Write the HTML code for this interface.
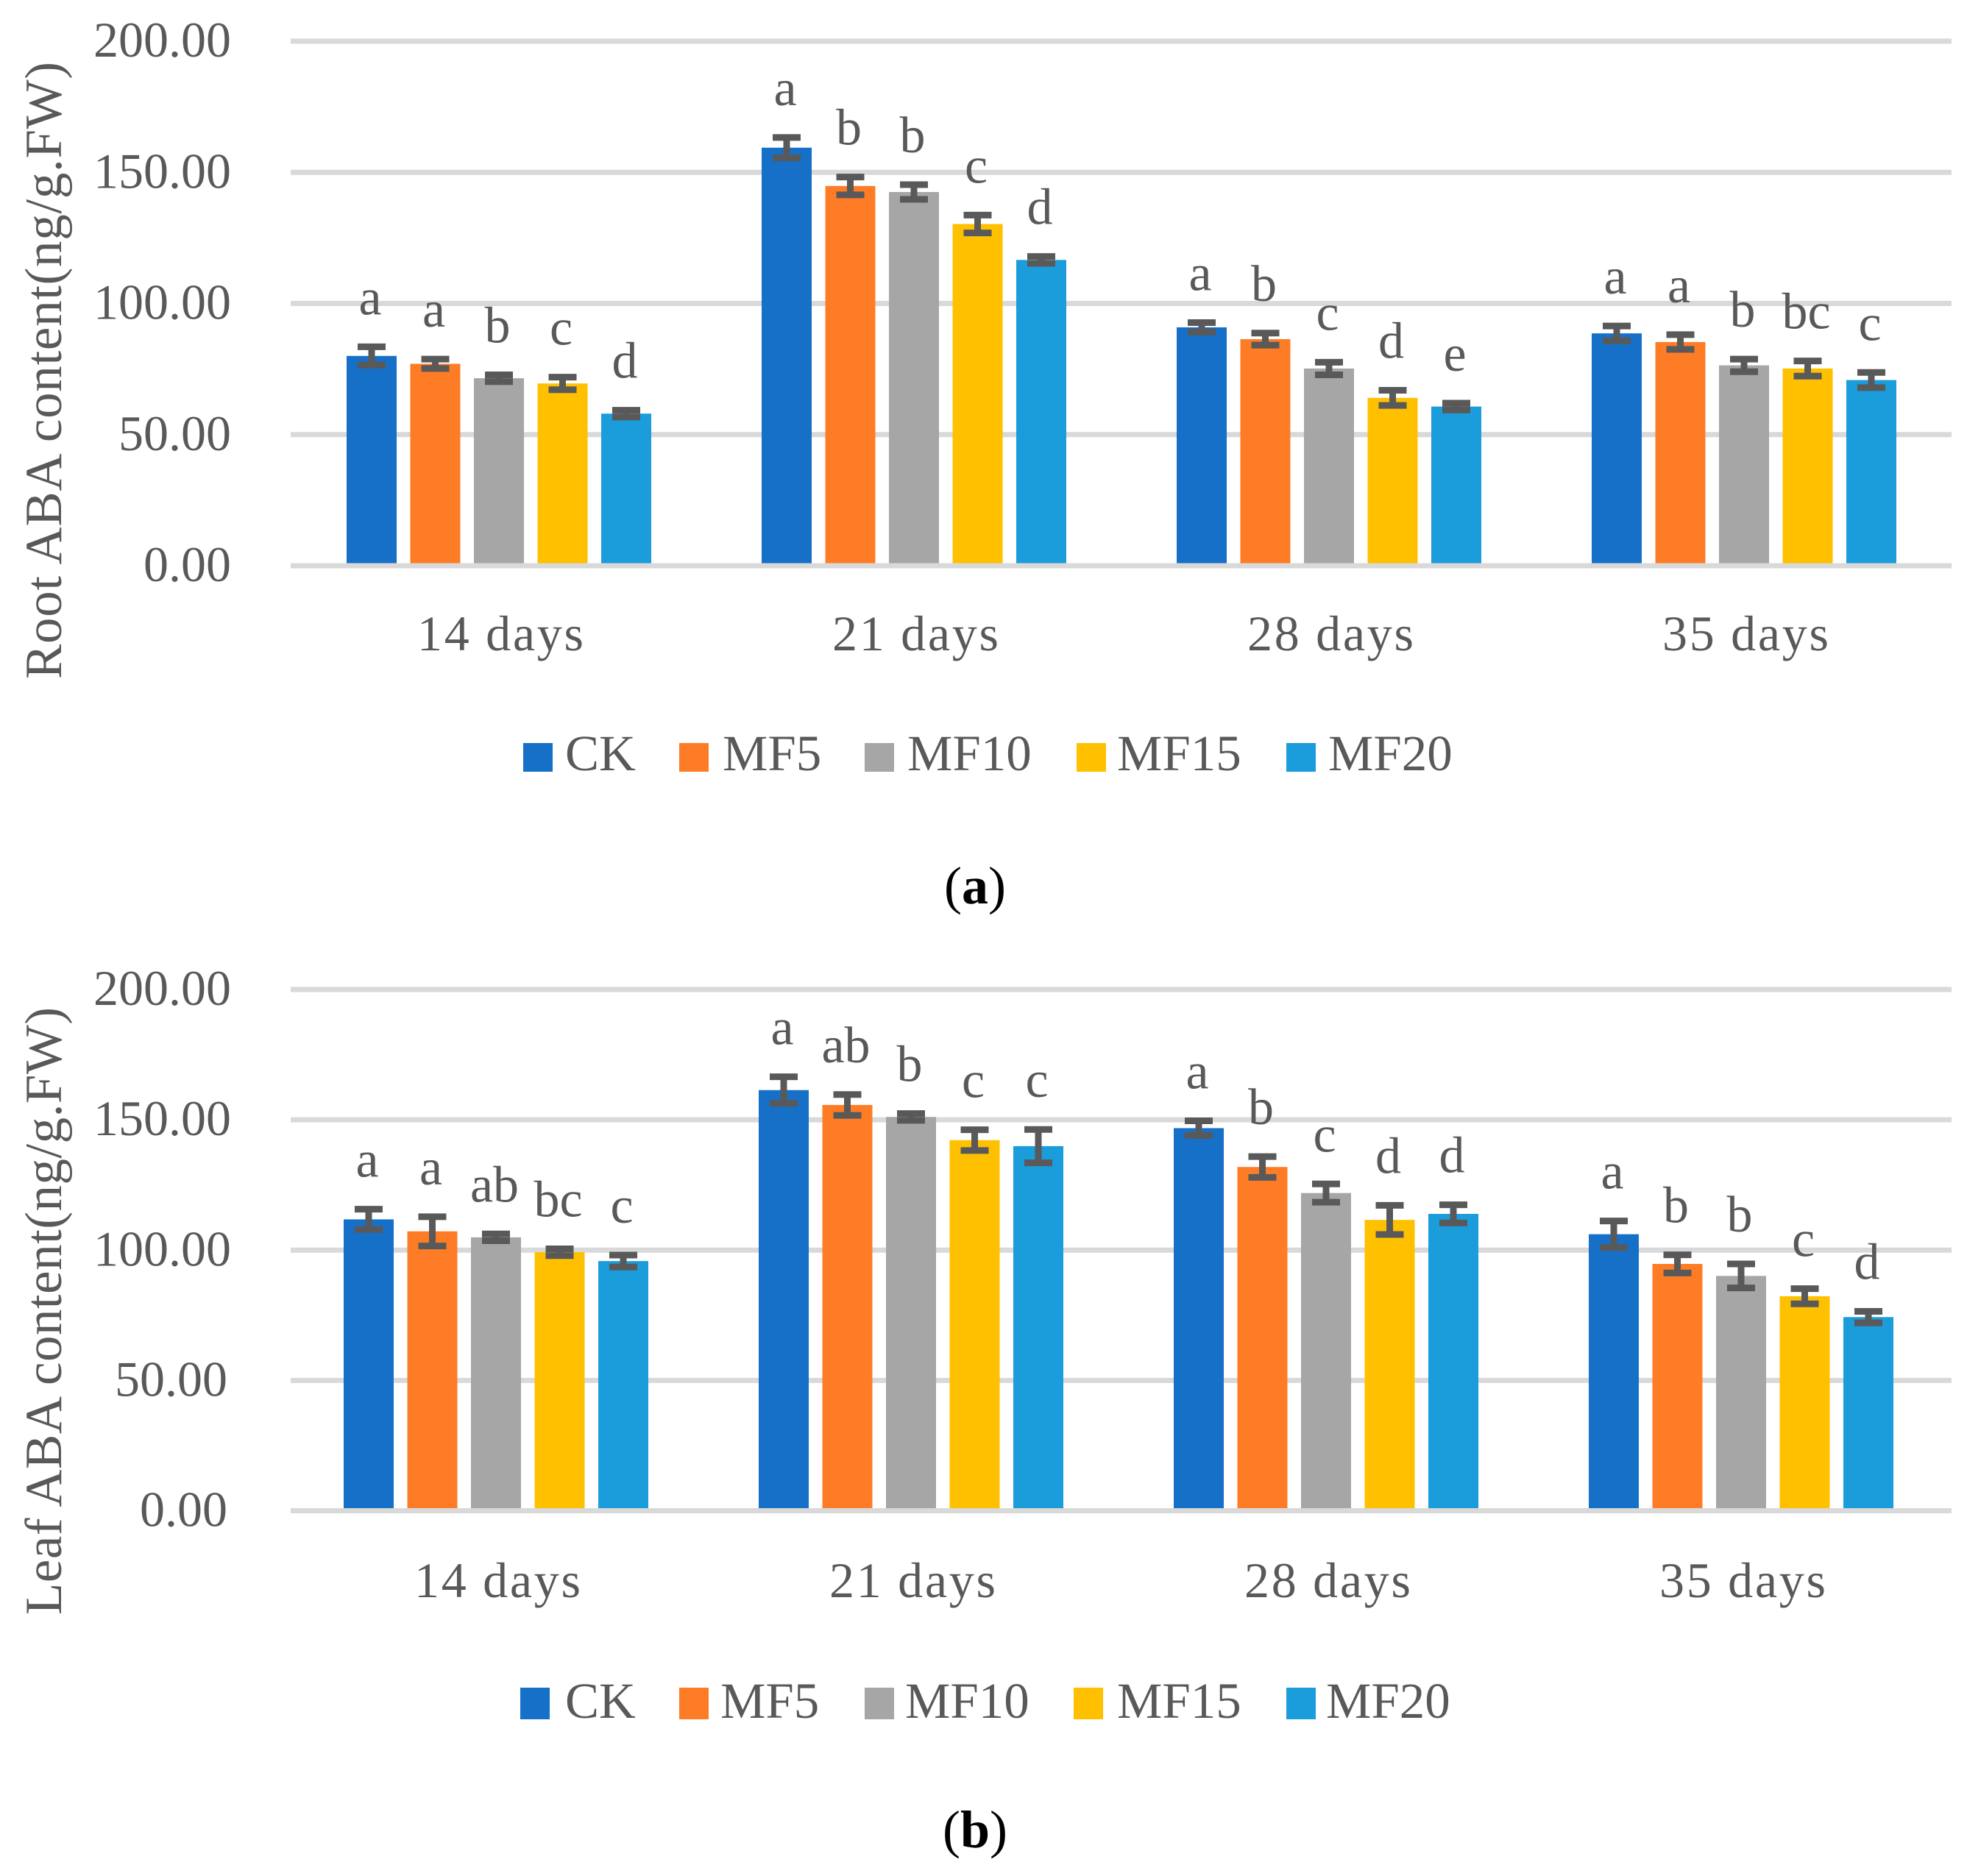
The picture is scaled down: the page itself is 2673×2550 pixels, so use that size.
<!DOCTYPE html>
<html lang="en">
<head>
<meta charset="utf-8">
<title>Root and Leaf ABA content</title>
<style>
html,body{margin:0;padding:0;background:#fff;}
svg{display:block;}
text{font-family:"Liberation Serif",serif;fill:#595959;}
.caption{fill:#000;}
.caption tspan.bold{font-weight:bold;fill:#000;}
</style>
</head>
<body>
<svg id="figure" xmlns="http://www.w3.org/2000/svg" width="2673" height="2550" viewBox="0 0 2673 2550">
  <rect x="0" y="0" width="2673" height="2550" fill="#ffffff"/>
  <g id="panel-a">
    <text transform="translate(83 923) rotate(-90)" font-size="71" textLength="839" lengthAdjust="spacing">Root ABA content(ng/g.FW)</text>
  </g>
  <text class="caption" x="1325" y="1228" font-size="72" text-anchor="middle">(<tspan class="bold">a</tspan>)</text>
  <g id="panel-b">
    <text transform="translate(83 2195) rotate(-90)" font-size="71" textLength="826" lengthAdjust="spacing">Leaf ABA content(ng/g.FW)</text>
  </g>
  <text class="caption" x="1325" y="2511" font-size="72" text-anchor="middle">(<tspan class="bold">b</tspan>)</text>
</svg>
<script>
const categories = ["14 days", "21 days", "28 days", "35 days"];
const seriesNames = ["CK", "MF5", "MF10", "MF15", "MF20"];
const tickValues = [0, 50, 100, 150, 200];
const tickLabels = ["0.00", "50.00", "100.00", "150.00", "200.00"];

const rootValues = [
  [80, 159.4, 90.9, 88.6],
  [77, 144.8, 86.4, 85.3],
  [71.5, 142.5, 75.2, 76.4],
  [69.5, 130.3, 64, 75.2],
  [58, 116.6, 60.7, 70.8]
];
const rootErrors = [
  [3.5, 3.9, 1.8, 2.8],
  [1.8, 3.4, 2.3, 2.8],
  [1.3, 2.8, 2.4, 2.4],
  [2.4, 3.4, 2.9, 2.9],
  [1.3, 1.3, 1.3, 2.9]
];
const rootLetters = [
  ["a", "a", "a", "a"],
  ["a", "b", "b", "a"],
  ["b", "b", "c", "b"],
  ["c", "c", "d", "bc"],
  ["d", "d", "e", "c"]
];

const leafValues = [
  [111.8, 161.4, 146.8, 106.1],
  [107.2, 155.7, 131.9, 94.7],
  [104.9, 151.1, 121.9, 90.1],
  [99.2, 142.2, 111.6, 82.3],
  [95.8, 139.9, 113.9, 74.3]
];
const leafErrors = [
  [3.9, 5.1, 2.8, 5.1],
  [5.6, 4, 4, 3.5],
  [1.3, 1.3, 3.5, 4.6],
  [1.3, 4, 5.6, 2.9],
  [2.3, 6.4, 3.5, 2.2]
];
const leafLetters = [
  ["a", "a", "a", "a"],
  ["a", "ab", "b", "b"],
  ["ab", "b", "c", "b"],
  ["bc", "c", "d", "c"],
  ["c", "c", "d", "d"]
];

const seriesColors = ["#1670c8", "#ff7c26", "#a6a6a6", "#ffc000", "#1b9cdb"];
const NS = "http://www.w3.org/2000/svg";

function shape(parent, tag, props) {
  const el = document.createElementNS(NS, tag);
  for (const key in props) {
    el.setAttribute(key, props[key]);
  }
  parent.appendChild(el);
  return el;
}

function drawPanel(parent, cfg) {
  const yScale = function (v) {
    return cfg.zeroY - (v * (cfg.zeroY - cfg.topY)) / 200;
  };
  const xScale = function (groupIndex, seriesIndex) {
    return cfg.firstBarX + groupIndex * 564 + seriesIndex * 86.5;
  };
  const barWidth = 68;

  tickValues.forEach(function (tick, i) {
    const label = shape(parent, "text", {
      x: tick < 100 ? cfg.smallTickRight : 314,
      y: yScale(tick) + 21,
      "font-size": 68,
      "text-anchor": "end"
    });
    label.textContent = tickLabels[i];
    
    
    if (tick > 0) {
      const grid = shape(parent, "line", {
        x1: 395, x2: 2652, y1: yScale(tick), y2: yScale(tick),
        stroke: "#d9d9d9", "stroke-width": 7
      });
      
      
    }
  });

  seriesNames.forEach(function (name, s) {
    categories.forEach(function (cat, g) {
      const v = cfg.values[s][g];
      const e = cfg.errors[s][g];
      const x = xScale(g, s);
      const bar = shape(parent, "rect", {
        x: x, y: yScale(v), width: barWidth, height: yScale(0) - yScale(v),
        fill: seriesColors[s]
      });
      
      

      const cx = x + barWidth / 2;
      const errorBar = shape(parent, "path", {
        d: "M" + (cx - 19) + " " + yScale(v + e) + "H" + (cx + 19) +
           "M" + cx + " " + yScale(v + e) + "V" + yScale(v - e) +
           "M" + (cx - 19) + " " + yScale(v - e) + "H" + (cx + 19),
        fill: "none", stroke: "#595959", "stroke-width": 9
      });
      
      

      const letter = shape(parent, "text", {
        x: cx - 2, y: yScale(v + e) - 44,
        "font-size": 70, "text-anchor": "middle"
      });
      letter.textContent = cfg.letters[s][g];
      
      
    });
  });

  const axis = shape(parent, "line", {
    x1: 395, x2: 2652, y1: yScale(0), y2: yScale(0),
    stroke: "#d9d9d9", "stroke-width": 7
  });
  
  

  categories.forEach(function (cat, g) {
    const label = shape(parent, "text", {
      x: xScale(g, 0) + 209, y: cfg.categoryY,
      "font-size": 68, "text-anchor": "middle",
      textLength: 226, lengthAdjust: "spacing"
    });
    label.textContent = cat;
    
    
  });

  seriesNames.forEach(function (name, s) {
    const swatch = shape(parent, "rect", {
      x: cfg.legendX[s], y: cfg.legendY, width: 40, height: cfg.legendH,
      fill: seriesColors[s]
    });
    
    
    const entry = shape(parent, "text", {
      x: cfg.legendTextX[s], y: cfg.legendBaseline, "font-size": 69
    });
    entry.textContent = name;
    
    
  });
}

drawPanel(document.getElementById("panel-a"), {
  values: rootValues, errors: rootErrors, letters: rootLetters,
  topY: 56, zeroY: 769, firstBarX: 471, categoryY: 884, smallTickRight: 314,
  legendX: [711, 923, 1175, 1463, 1748],
  legendTextX: [768, 982, 1233, 1518, 1805],
  legendY: 1010, legendH: 39, legendBaseline: 1047
});

drawPanel(document.getElementById("panel-b"), {
  values: leafValues, errors: leafErrors, letters: leafLetters,
  topY: 1345, zeroY: 2053.5, firstBarX: 467, categoryY: 2171, smallTickRight: 309,
  legendX: [707, 923, 1175, 1459, 1748],
  legendTextX: [768, 979, 1230, 1518, 1802],
  legendY: 2294, legendH: 43, legendBaseline: 2335
});
</script>
</body>
</html>
